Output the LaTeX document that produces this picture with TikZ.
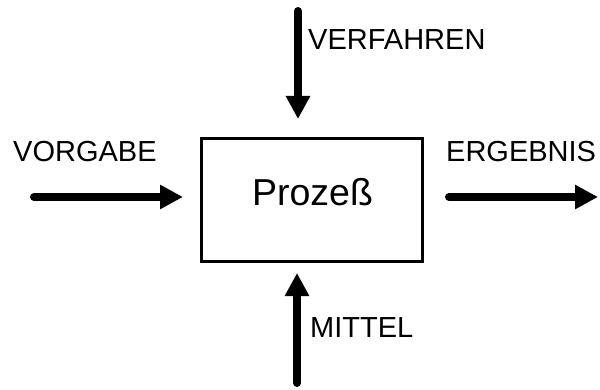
\documentclass[tikz,border=0pt]{standalone}
\usepackage{fontspec}
\setmainfont{Liberation Sans}
\usetikzlibrary{arrows.meta}
\begin{document}
\begin{tikzpicture}[x=1pt,y=-1pt,
  flow/.style={line width=8pt,line cap=round,
    -{Triangle[length=23pt,width=23pt]}},
  procbox/.style={draw,line width=3pt,inner sep=0pt,
    minimum width=220.5pt,minimum height=122.5pt},
  lbl/.style={font=\fontsize{29}{31}\selectfont,inner sep=0pt,anchor=base west}]
  \useasboundingbox (0,0) rectangle (600,390);
  % process box
  \node[procbox] (proc) at (311.75,200.25) {};
  \node[font=\fontsize{37.5}{40}\selectfont,inner sep=0pt,anchor=base] (name) at (312.5,206) {Prozeß};
  % end points of the flows
  \coordinate (inA) at (34,197);   \coordinate (inB) at (183,197);
  \coordinate (outA) at (449,197); \coordinate (outB) at (598,197);
  \coordinate (topA) at (298,11);  \coordinate (topB) at (298,119);
  \coordinate (botA) at (297,383); \coordinate (botB) at (297,273);
  \draw[flow] (inA) -- (inB);
  \draw[flow] (outA) -- (outB);
  \draw[flow] (topA) -- (topB);
  \draw[flow] (botA) -- (botB);
  % labels
  \node[lbl] (vorgabe) at (13,162) {VORGABE};
  \node[lbl] (ergebnis) at (446,162) {ERGEBNIS};
  \node[lbl] (verfahren) at (308,50) {VERFAHREN};
  \node[lbl] (mittel) at (310,337) {MITTEL};
\end{tikzpicture}
\end{document}
